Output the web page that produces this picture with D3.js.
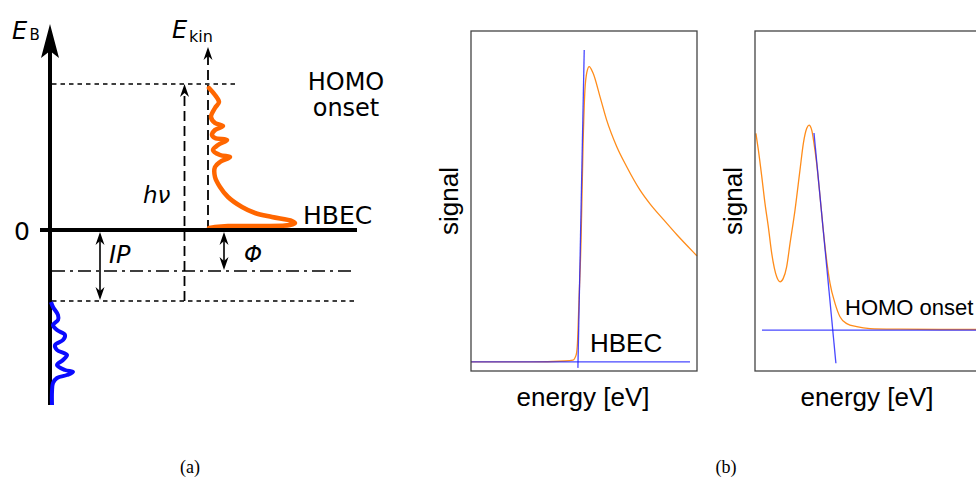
<!DOCTYPE html>
<html>
<head>
<meta charset="utf-8">
<script src="https://cdn.jsdelivr.net/npm/d3@7"></script>
<style>
  body { margin: 0; background: #fff; }
  svg { display: block; }
</style>
</head>
<body>
<script>
// ---- panel (a): schematic energy diagram ----
// energy levels (arbitrary eV-like units, 0 = HBEC / Fermi)
const levelVac = -4.1;
const levelIP = -7.1;
const levelHv = 14.6;

// measured spectrum drawn on E_kin axis (energy, intensity)
const specE = [14.2, 13.5, 12.8, 12.2, 11.3, 10.7, 10.4, 10.0, 9.5, 9.2, 9.0, 8.5, 8.0, 7.5, 7.3, 6.8, 6.3, 5.3, 4.3, 3.3, 2.3, 1.7, 1.3, 0.9, 0.7, 0.5, 0.4, 0.4, 0.3, 0.2];
const specI = [1, 7, 11, 7, 3, 7, 15, 7, 4, 7, 19, 10, 5, 12, 22, 12, 7, 7, 12, 20, 34, 47, 64, 84, 87, 82, 54, 20, 7, 1];

// occupied states drawn on E_B axis
const dosE = [-7.2, -7.7, -8.5, -9.0, -9.5, -10.0, -10.5, -11.0, -11.5, -12.0, -12.5, -13.0, -13.5, -14.0, -14.2, -14.5, -14.8, -15.3, -16.2, -17.5];
const dosI = [1, 3, 8, 8, 3, 7, 15, 13, 5, 7, 17, 13, 7, 15, 23, 17, 7, 3, 2, 2];

// ---- panel (b): measured spectra ----
const hbecEnergy = [0, 26.1, 41.6, 45.1, 46.5, 47.1, 47.8, 48.7, 49.6, 50.4, 51.3, 52.3, 54.0, 57.1, 60.0, 64.5, 68.9, 74.8, 79.2, 85.0, 91.2, 99.6, 100];
const hbecSignal = [0, 0, 0.3, 0.6, 2.2, 6, 20, 39, 70, 87, 93, 94.7, 92.6, 85, 77.6, 69, 62.6, 55.1, 50.7, 45.8, 40.7, 34.3, 34.0];
const hbecBaseE = [0, 96.9];
const hbecBaseS = [0, 0];
const hbecEdgeE = [50.1, 47.3];
const hbecEdgeS = [100, -1.9];

const homoEnergy = [0.4, 1.5, 3.0, 4.4, 5.9, 7.4, 9.6, 11.1, 12.5, 14.0, 15.5, 17.7, 19.9, 21.4, 22.9, 23.9, 25.1, 26.1, 27.3, 28.8, 30.2, 31.7, 33.2, 35.4, 37.6, 40.6, 45.0, 50.9, 64.2, 81.9, 100];
const homoSignal = [63.1, 57.7, 49.2, 40.7, 33.1, 24.6, 17.1, 15.5, 16.6, 20.3, 27.8, 38.5, 51.3, 59.9, 64.7, 65.7, 64.1, 59.9, 53.4, 42.7, 32.1, 22.4, 15.0, 8.6, 4.3, 2.1, 1.1, 0.5, 0.3, 0.2, 0.2];
const homoBaseE = [3.1, 100];
const homoBaseS = [0, 0];
const homoEdgeE = [26.1, 35.8];
const homoEdgeS = [63.2, -10.6];

const W = 976, H = 480;
const svg = d3.select('body').append('svg')
    .attr('width', W)
    .attr('height', H);

const fa = 'DejaVu Sans, sans-serif';
const fb = 'Liberation Sans, Arial, sans-serif';

// ================= panel (a) =================
const ga = svg.append('g').attr('id', 'panel-a');
const yA = d3.scaleLinear().domain([-17.5, 20.5]).range([405, 25]);
const xSpec = d3.scaleLinear().domain([0, 87]).range([208, 295]);
const xDos = d3.scaleLinear().domain([0, 25]).range([50, 75]);

const axisX = 50, kinX = 208, hvX = 184.5, ipX = 100, phiX = 224;

function head(g, x, y, dir, w, h) {
  // dir = -1 points up, +1 points down
  g.append('path')
    .attr('d', `M${x},${y} L${x - w},${y - dir * h} L${x},${y - dir * h * 0.7} L${x + w},${y - dir * h} Z`)
    .attr('fill', '#000');
}

// horizontal levels
ga.append('line')
    .attr('x1', 52).attr('x2', 235)
    .attr('y1', yA(levelHv)).attr('y2', yA(levelHv))
    .attr('stroke', '#000').attr('stroke-width', 1.6)
    .attr('stroke-dasharray', '4.5,4');
ga.append('line')
    .attr('x1', 52).attr('x2', 356)
    .attr('y1', yA(levelVac)).attr('y2', yA(levelVac))
    .attr('stroke', '#000').attr('stroke-width', 1.6)
    .attr('stroke-dasharray', '13,5,3,5');
ga.append('line')
    .attr('x1', 52).attr('x2', 356)
    .attr('y1', yA(levelIP)).attr('y2', yA(levelIP))
    .attr('stroke', '#000').attr('stroke-width', 1.6)
    .attr('stroke-dasharray', '4.5,4');

// hv dashed arrow
ga.append('line')
    .attr('x1', hvX).attr('x2', hvX)
    .attr('y1', yA(levelIP)).attr('y2', yA(levelHv) + 8)
    .attr('stroke', '#000').attr('stroke-width', 1.8)
    .attr('stroke-dasharray', '10,5');
head(ga, hvX, yA(levelHv), -1, 4.5, 13);

// E_kin dashed axis
ga.append('line')
    .attr('x1', kinX).attr('x2', kinX)
    .attr('y1', yA(0)).attr('y2', 56)
    .attr('stroke', '#000').attr('stroke-width', 1.8)
    .attr('stroke-dasharray', '10,5');
head(ga, kinX, 47, -1, 4.5, 13);

// IP and phi double arrows
[[ipX, levelIP], [phiX, levelVac]].forEach(([x, lv]) => {
  ga.append('line')
    .attr('x1', x).attr('x2', x)
    .attr('y1', yA(0) + 8).attr('y2', yA(lv) - 8)
    .attr('stroke', '#000').attr('stroke-width', 1.6);
  head(ga, x, yA(0) + 2, -1, 4.5, 13);
  head(ga, x, yA(lv) - 1, 1, 4.5, 13);
});

// spectrum curve (orange)
ga.append('path')
    .datum(d3.zip(specE, specI))
    .attr('d', d3.line().x(d => xSpec(d[1])).y(d => yA(d[0])).curve(d3.curveCatmullRom))
    .attr('fill', 'none')
    .attr('stroke', '#ff6600')
    .attr('stroke-width', 4.5)
    .attr('stroke-linecap', 'round')
    .attr('stroke-linejoin', 'round');

// zero line and E_B axis
ga.append('line')
    .attr('x1', 40).attr('x2', 357)
    .attr('y1', yA(0)).attr('y2', yA(0))
    .attr('stroke', '#000').attr('stroke-width', 4);
ga.append('line')
    .attr('x1', axisX).attr('x2', axisX)
    .attr('y1', yA(-17.5)).attr('y2', 50)
    .attr('stroke', '#000').attr('stroke-width', 4);
ga.append('path')
    .attr('d', `M${axisX},24 L${axisX + 9},58 L${axisX},51 L${axisX - 9},58 Z`)
    .attr('fill', '#000');

// occupied states (blue)
ga.append('path')
    .datum(d3.zip(dosE, dosI))
    .attr('d', d3.line().x(d => xDos(d[1])).y(d => yA(d[0])).curve(d3.curveCatmullRom))
    .attr('fill', 'none')
    .attr('stroke', '#0a0aff')
    .attr('stroke-width', 4)
    .attr('stroke-linejoin', 'round');

// labels (a)
const ta = (x, y, s, size, style) => ga.append('text')
    .attr('x', x).attr('y', y)
    .attr('font-family', fa)
    .attr('font-size', size)
    .attr('font-style', style || 'normal')
    .text(s);
ta(12, 39, 'E', 24, 'italic');
ta(29.5, 40, 'B', 15);
ta(172, 38, 'E', 24, 'italic');
ta(189, 42, 'kin', 16);
ta(346, 90, 'HOMO', 24).attr('text-anchor', 'middle');
ta(346, 116, 'onset', 24).attr('text-anchor', 'middle');
ta(303, 224, 'HBEC', 25);
ta(14, 240, '0', 25);
ta(143, 203, 'hν', 23, 'italic');
ta(109, 263, 'IP', 24, 'italic');
ta(244, 262, 'Φ', 23, 'italic');

// ================= panel (b) =================
const gb = svg.append('g').attr('id', 'panel-b');

function spectrum(x0, x1, yDom, energy, signal, base, edge, label, lx, ly, lsize) {
  const x = d3.scaleLinear().domain([0, 100]).range([x0, x1]);
  const y = d3.scaleLinear().domain(yDom).range([371, 31]);
  const g = gb.append('g');
  const line = d3.line().x(d => x(d[0])).y(d => y(d[1]));

  g.append('path')
    .datum(d3.zip(energy, signal))
    .attr('d', line.curve(d3.curveMonotoneX))
    .attr('fill', 'none')
    .attr('stroke', '#ff8c1a')
    .attr('stroke-width', 1.3);

  [base, edge].forEach(f => {
    g.append('path')
      .datum(d3.zip(f[0], f[1]))
      .attr('d', d3.line().x(d => x(d[0])).y(d => y(d[1])))
      .attr('fill', 'none')
      .attr('stroke', '#1a1aff')
      .attr('stroke-opacity', 0.8)
      .attr('stroke-width', 1.3);
  });

  g.append('rect')
    .attr('x', x0).attr('y', 31)
    .attr('width', x1 - x0).attr('height', 340)
    .attr('fill', 'none')
    .attr('stroke', '#444')
    .attr('stroke-width', 1.3);

  g.append('text')
    .attr('transform', `translate(${x0 - 13},${201}) rotate(-90)`)
    .attr('text-anchor', 'middle')
    .attr('font-family', fb)
    .attr('font-size', 26)
    .text('signal');

  g.append('text')
    .attr('x', (x0 + x1) / 2 - 1).attr('y', 406)
    .attr('text-anchor', 'middle')
    .attr('font-family', fb)
    .attr('font-size', 26)
    .text('energy [eV]');

  g.append('text')
    .attr('x', lx).attr('y', ly)
    .attr('font-family', fb)
    .attr('font-size', lsize)
    .text(label);
}

spectrum(471, 697, [-2.9, 106.1], hbecEnergy, hbecSignal,
  [hbecBaseE, hbecBaseS], [hbecEdgeE, hbecEdgeS], 'HBEC', 590, 352, 26);
spectrum(755, 981, [-13.1, 95.9], homoEnergy, homoSignal,
  [homoBaseE, homoBaseS], [homoEdgeE, homoEdgeS], 'HOMO onset', 845, 315, 22);

// captions
svg.append('text')
    .attr('x', 190).attr('y', 473)
    .attr('text-anchor', 'middle')
    .attr('font-family', 'Liberation Serif, serif')
    .attr('font-size', 18)
    .text('(a)');
svg.append('text')
    .attr('x', 726).attr('y', 473)
    .attr('text-anchor', 'middle')
    .attr('font-family', 'Liberation Serif, serif')
    .attr('font-size', 18)
    .text('(b)');
</script>
</body>
</html>
